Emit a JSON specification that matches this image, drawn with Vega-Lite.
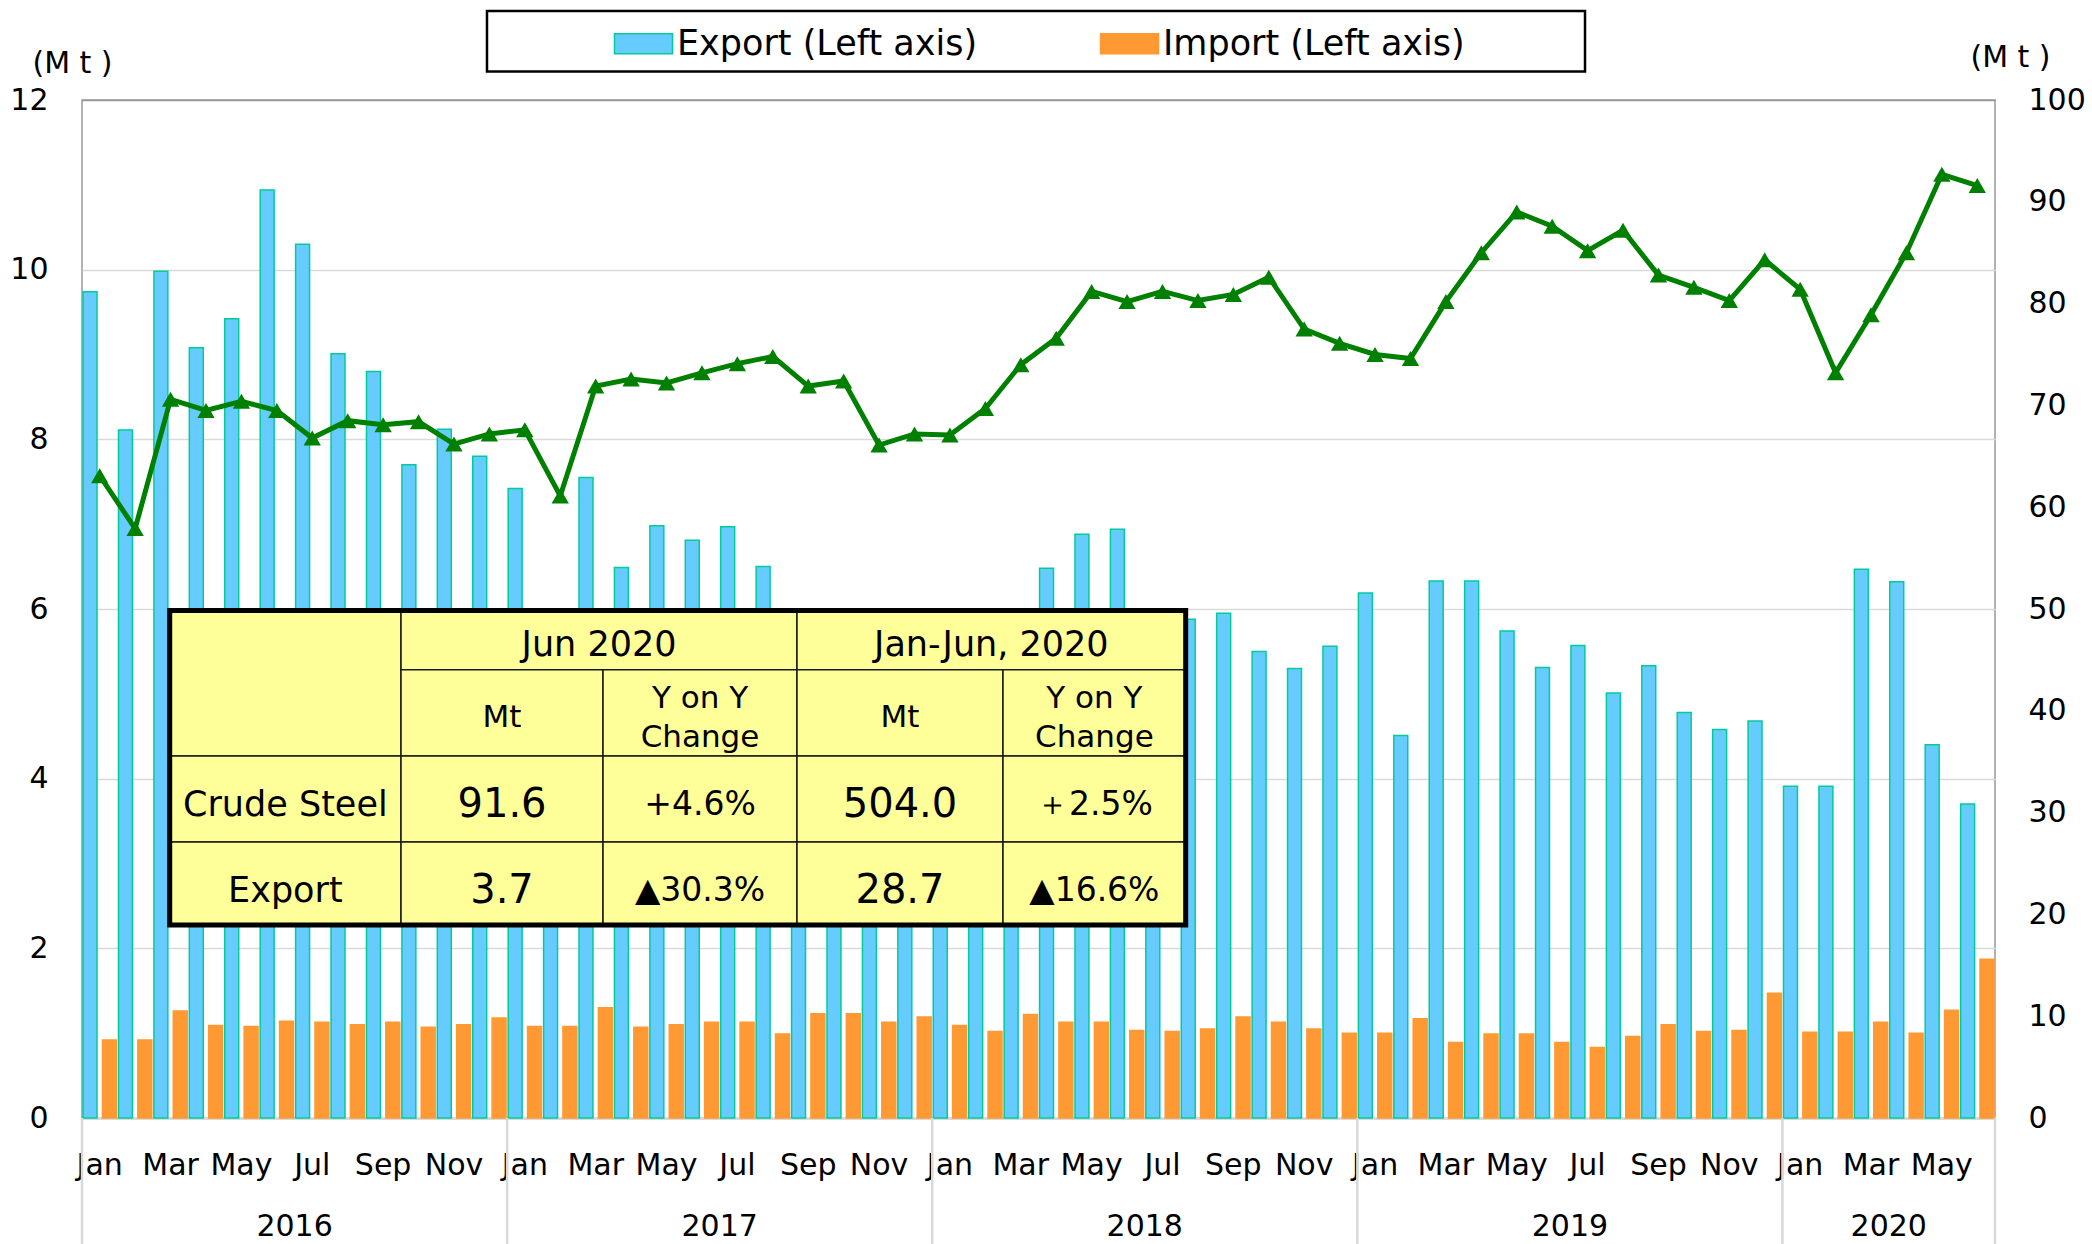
{
  "$schema": "https://vega.github.io/schema/vega-lite/v6.json",
  "width": 1913,
  "height": 1018,
  "autosize": {"type": "none"},
  "padding": {"left": 82, "top": 100, "right": 97, "bottom": 126},
  "background": "white",
  "config": {
    "font": "DejaVu Sans",
    "view": {"stroke": "#999999", "strokeWidth": 1.5},
    "axis": {"labelColor": "#000000", "titleColor": "#000000", "labelFont": "DejaVu Sans", "titleFont": "DejaVu Sans"},
    "legend": {
      "orient": "none",
      "legendX": 544,
      "legendY": -74,
      "direction": "horizontal",
      "columns": 2,
      "padding": 0,
      "symbolType": "M-2.9,-1H2.9V1H-2.9Z",
      "symbolSize": 400,
      "symbolStrokeWidth": 1.5,
      "labelFontSize": 35,
      "labelColor": "#000000",
      "labelOffset": 16,
      "labelLimit": 500,
      "columnPadding": 119
    }
  },
  "datasets": {
    "monthly": [
      {"m": "2016-Jan", "Export": 9.74, "Import": 0.92, "cs": 63.1},
      {"m": "2016-Feb", "Export": 8.11, "Import": 0.92, "cs": 57.9},
      {"m": "2016-Mar", "Export": 9.98, "Import": 1.26, "cs": 70.6},
      {"m": "2016-Apr", "Export": 9.08, "Import": 1.09, "cs": 69.5},
      {"m": "2016-May", "Export": 9.42, "Import": 1.08, "cs": 70.4},
      {"m": "2016-Jun", "Export": 10.94, "Import": 1.14, "cs": 69.5},
      {"m": "2016-Jul", "Export": 10.30, "Import": 1.13, "cs": 66.8},
      {"m": "2016-Aug", "Export": 9.01, "Import": 1.10, "cs": 68.5},
      {"m": "2016-Sep", "Export": 8.80, "Import": 1.13, "cs": 68.1},
      {"m": "2016-Oct", "Export": 7.70, "Import": 1.07, "cs": 68.4},
      {"m": "2016-Nov", "Export": 8.12, "Import": 1.10, "cs": 66.2},
      {"m": "2016-Dec", "Export": 7.80, "Import": 1.18, "cs": 67.2},
      {"m": "2017-Jan", "Export": 7.42, "Import": 1.08, "cs": 67.6},
      {"m": "2017-Feb", "Export": 5.45, "Import": 1.08, "cs": 61.1},
      {"m": "2017-Mar", "Export": 7.55, "Import": 1.30, "cs": 71.9},
      {"m": "2017-Apr", "Export": 6.49, "Import": 1.07, "cs": 72.6},
      {"m": "2017-May", "Export": 6.98, "Import": 1.10, "cs": 72.2},
      {"m": "2017-Jun", "Export": 6.81, "Import": 1.13, "cs": 73.2},
      {"m": "2017-Jul", "Export": 6.97, "Import": 1.13, "cs": 74.1},
      {"m": "2017-Aug", "Export": 6.50, "Import": 0.99, "cs": 74.8},
      {"m": "2017-Sep", "Export": 5.82, "Import": 1.23, "cs": 71.9},
      {"m": "2017-Oct", "Export": 5.20, "Import": 1.23, "cs": 72.4},
      {"m": "2017-Nov", "Export": 5.42, "Import": 1.13, "cs": 66.1},
      {"m": "2017-Dec", "Export": 5.63, "Import": 1.19, "cs": 67.2},
      {"m": "2018-Jan", "Export": 5.00, "Import": 1.09, "cs": 67.1},
      {"m": "2018-Feb", "Export": 4.80, "Import": 1.02, "cs": 69.7},
      {"m": "2018-Mar", "Export": 5.30, "Import": 1.22, "cs": 74.0},
      {"m": "2018-Apr", "Export": 6.48, "Import": 1.13, "cs": 76.6},
      {"m": "2018-May", "Export": 6.88, "Import": 1.13, "cs": 81.2},
      {"m": "2018-Jun", "Export": 6.94, "Import": 1.03, "cs": 80.2},
      {"m": "2018-Jul", "Export": 5.85, "Import": 1.02, "cs": 81.2},
      {"m": "2018-Aug", "Export": 5.88, "Import": 1.05, "cs": 80.3},
      {"m": "2018-Sep", "Export": 5.95, "Import": 1.19, "cs": 80.9},
      {"m": "2018-Oct", "Export": 5.50, "Import": 1.13, "cs": 82.6},
      {"m": "2018-Nov", "Export": 5.30, "Import": 1.05, "cs": 77.5},
      {"m": "2018-Dec", "Export": 5.56, "Import": 1.00, "cs": 76.1},
      {"m": "2019-Jan", "Export": 6.19, "Import": 1.00, "cs": 75.0},
      {"m": "2019-Feb", "Export": 4.51, "Import": 1.17, "cs": 74.6},
      {"m": "2019-Mar", "Export": 6.33, "Import": 0.89, "cs": 80.2},
      {"m": "2019-Apr", "Export": 6.33, "Import": 0.99, "cs": 85.0},
      {"m": "2019-May", "Export": 5.74, "Import": 0.99, "cs": 89.0},
      {"m": "2019-Jun", "Export": 5.31, "Import": 0.89, "cs": 87.6},
      {"m": "2019-Jul", "Export": 5.57, "Import": 0.83, "cs": 85.2},
      {"m": "2019-Aug", "Export": 5.01, "Import": 0.96, "cs": 87.2},
      {"m": "2019-Sep", "Export": 5.33, "Import": 1.10, "cs": 82.8},
      {"m": "2019-Oct", "Export": 4.78, "Import": 1.02, "cs": 81.6},
      {"m": "2019-Nov", "Export": 4.58, "Import": 1.03, "cs": 80.3},
      {"m": "2019-Dec", "Export": 4.68, "Import": 1.47, "cs": 84.3},
      {"m": "2020-Jan", "Export": 3.91, "Import": 1.01, "cs": 81.4},
      {"m": "2020-Feb", "Export": 3.91, "Import": 1.01, "cs": 73.2},
      {"m": "2020-Mar", "Export": 6.47, "Import": 1.13, "cs": 78.9},
      {"m": "2020-Apr", "Export": 6.32, "Import": 1.00, "cs": 85.0},
      {"m": "2020-May", "Export": 4.40, "Import": 1.27, "cs": 92.7},
      {"m": "2020-Jun", "Export": 3.70, "Import": 1.87, "cs": 91.6}
    ],
    "cells": [
      {"x1": 2.476, "x2": 9.005, "y1": 4.267, "y2": 5.982},
      {"x1": 9.005, "x2": 20.183, "y1": 5.283, "y2": 5.982},
      {"x1": 20.183, "x2": 31.155, "y1": 5.283, "y2": 5.982},
      {"x1": 9.005, "x2": 14.707, "y1": 4.267, "y2": 5.283},
      {"x1": 14.707, "x2": 20.183, "y1": 4.267, "y2": 5.283},
      {"x1": 20.183, "x2": 25.998, "y1": 4.267, "y2": 5.283},
      {"x1": 25.998, "x2": 31.155, "y1": 4.267, "y2": 5.283},
      {"x1": 2.476, "x2": 9.005, "y1": 3.253, "y2": 4.267},
      {"x1": 9.005, "x2": 14.707, "y1": 3.253, "y2": 4.267},
      {"x1": 14.707, "x2": 20.183, "y1": 3.253, "y2": 4.267},
      {"x1": 20.183, "x2": 25.998, "y1": 3.253, "y2": 4.267},
      {"x1": 25.998, "x2": 31.155, "y1": 3.253, "y2": 4.267},
      {"x1": 2.476, "x2": 9.005, "y1": 2.275, "y2": 3.253},
      {"x1": 9.005, "x2": 14.707, "y1": 2.275, "y2": 3.253},
      {"x1": 14.707, "x2": 20.183, "y1": 2.275, "y2": 3.253},
      {"x1": 20.183, "x2": 25.998, "y1": 2.275, "y2": 3.253},
      {"x1": 25.998, "x2": 31.155, "y1": 2.275, "y2": 3.253}
    ],
    "text35": [
      {"t": "Jun 2020", "x": 14.594, "y": 5.58},
      {"t": "Jan-Jun, 2020", "x": 25.669, "y": 5.58},
      {"t": "Crude Steel", "x": 5.74, "y": 3.69},
      {"t": "Export", "x": 5.74, "y": 2.67}
    ],
    "text31": [
      {"t": "Mt", "x": 11.856, "y": 4.71},
      {"t": "Y on Y", "x": 17.445, "y": 4.94},
      {"t": "Change", "x": 17.445, "y": 4.48},
      {"t": "Mt", "x": 23.09, "y": 4.71},
      {"t": "Y on Y", "x": 28.577, "y": 4.94},
      {"t": "Change", "x": 28.577, "y": 4.48}
    ],
    "text33": [
      {"t": "+4.6%", "x": 17.445, "y": 3.69},
      {"t": "＋2.5%", "x": 28.577, "y": 3.69},
      {"t": "▲30.3%", "x": 17.445, "y": 2.67},
      {"t": "▲16.6%", "x": 28.577, "y": 2.67}
    ],
    "text40": [
      {"t": "91.6", "x": 11.856, "y": 3.69},
      {"t": "504.0", "x": 23.09, "y": 3.69},
      {"t": "3.7", "x": 11.856, "y": 2.67},
      {"t": "28.7", "x": 23.09, "y": 2.67}
    ],
    "years": [
      {"yr": "2016", "c": 6},
      {"yr": "2017", "c": 18},
      {"yr": "2018", "c": 30},
      {"yr": "2019", "c": 42},
      {"yr": "2020", "c": 51}
    ],
    "bounds": [
      {"b": 0}, {"b": 12}, {"b": 24}, {"b": 36}, {"b": 48}, {"b": 54}
    ]
  },
  "layer": [
    {
      "data": {"name": "monthly"},
      "transform": [{"fold": ["Export", "Import"], "as": ["series", "value"]}],
      "mark": {"type": "bar", "strokeWidth": 1.5},
      "encoding": {
        "x": {
          "field": "m", "type": "ordinal", "sort": null,
          "scale": {"paddingInner": 0.06, "paddingOuter": 0.03},
          "axis": {
            "title": null,
            "values": ["2016-Jan","2016-Mar","2016-May","2016-Jul","2016-Sep","2016-Nov","2017-Jan","2017-Mar","2017-May","2017-Jul","2017-Sep","2017-Nov","2018-Jan","2018-Mar","2018-May","2018-Jul","2018-Sep","2018-Nov","2019-Jan","2019-Mar","2019-May","2019-Jul","2019-Sep","2019-Nov","2020-Jan","2020-Mar","2020-May"],
            "labelExpr": "slice(datum.label, 5)",
            "labelAngle": 0,
            "labelFontSize": 30,
            "labelPadding": 32,
            "ticks": false,
            "tickSize": 0,
            "domainColor": "#D9D9D9",
            "domainWidth": 3,
            "labelOverlap": false,
            "labelBound": false,
            "labelFlush": false,
            "grid": false
          }
        },
        "xOffset": {"field": "series", "type": "nominal", "scale": {"paddingInner": 0.28, "paddingOuter": 0}},
        "y": {
          "field": "value", "type": "quantitative",
          "scale": {"domain": [0, 12], "nice": false},
          "axis": {
            "title": "(M t )",
            "values": [0, 2, 4, 6, 8, 10, 12],
            "grid": true,
            "gridColor": {"condition": {"test": "datum.value == 12", "value": "#999999"}, "value": "#D9D9D9"},
            "gridWidth": 1.5,
            "ticks": false,
            "tickSize": 0,
            "domain": false,
            "labelFontSize": 30,
            "labelPadding": 34,
            "titleAngle": 0,
            "titleX": -10,
            "titleY": -37,
            "titleAlign": "center",
            "titleBaseline": "middle",
            "titleFontSize": 30,
            "titleFontWeight": "normal"
          }
        },
        "color": {
          "field": "series", "type": "nominal",
          "scale": {"domain": ["Export", "Import"], "range": ["#66CCFF", "#FF9933"]},
          "legend": {"title": null, "labelExpr": "datum.label + ' (Left axis)'"}
        },
        "stroke": {
          "field": "series", "type": "nominal",
          "scale": {"domain": ["Export", "Import"], "range": ["#00CC99", "#FF9933"]},
          "legend": {"title": null, "labelExpr": "datum.label + ' (Left axis)'"}
        }
      }
    },
    {
      "data": {"name": "monthly"},
      "mark": {
        "type": "line", "color": "#008000", "strokeWidth": 5,
        "point": {"shape": "triangle-up", "size": 300, "filled": true, "color": "#008000"}
      },
      "encoding": {
        "x": {"field": "m", "type": "ordinal", "sort": null, "scale": {"type": "point", "padding": 0.5}, "axis": null},
        "y": {
          "field": "cs", "type": "quantitative",
          "scale": {"domain": [0, 100], "nice": false},
          "axis": {
            "orient": "right",
            "title": "(M t )",
            "values": [0, 10, 20, 30, 40, 50, 60, 70, 80, 90, 100],
            "grid": false,
            "ticks": false,
            "tickSize": 0,
            "domain": false,
            "labelFontSize": 30,
            "labelPadding": 33,
            "titleAngle": 0,
            "titleX": 15,
            "titleY": -43,
            "titleAlign": "center",
            "titleBaseline": "middle",
            "titleFontSize": 30,
            "titleFontWeight": "normal"
          }
        }
      }
    },
    {
      "layer": [
        {
          "data": {"name": "cells"},
          "mark": {"type": "rect", "fill": "#FFFF99", "stroke": "#1A1A1A", "strokeWidth": 1.5},
          "encoding": {
            "x": {"field": "x1", "type": "quantitative", "scale": {"domain": [0, 54], "nice": false, "zero": false}, "axis": null},
            "x2": {"field": "x2"},
            "y": {"field": "y1", "type": "quantitative", "scale": {"domain": [0, 12], "nice": false, "zero": false}, "axis": null},
            "y2": {"field": "y2"}
          }
        },
        {
          "data": {"values": [{}]},
          "mark": {"type": "rect", "fill": "#FFFFFF", "fillOpacity": 0, "stroke": "#000000", "strokeWidth": 5},
          "encoding": {
            "x": {"datum": 2.476, "type": "quantitative"},
            "x2": {"datum": 31.155},
            "y": {"datum": 2.275, "type": "quantitative"},
            "y2": {"datum": 5.982}
          }
        },
        {
          "data": {"name": "text35"},
          "mark": {"type": "text", "fontSize": 35, "color": "#000000", "align": "center", "baseline": "middle"},
          "encoding": {
            "x": {"field": "x", "type": "quantitative"},
            "y": {"field": "y", "type": "quantitative"},
            "text": {"field": "t"}
          }
        },
        {
          "data": {"name": "text31"},
          "mark": {"type": "text", "fontSize": 31, "color": "#000000", "align": "center", "baseline": "middle"},
          "encoding": {
            "x": {"field": "x", "type": "quantitative"},
            "y": {"field": "y", "type": "quantitative"},
            "text": {"field": "t"}
          }
        },
        {
          "data": {"name": "text33"},
          "mark": {"type": "text", "fontSize": 33, "color": "#000000", "align": "center", "baseline": "middle"},
          "encoding": {
            "x": {"field": "x", "type": "quantitative"},
            "y": {"field": "y", "type": "quantitative"},
            "text": {"field": "t"}
          }
        },
        {
          "data": {"name": "text40"},
          "mark": {"type": "text", "fontSize": 40, "color": "#000000", "align": "center", "baseline": "middle"},
          "encoding": {
            "x": {"field": "x", "type": "quantitative"},
            "y": {"field": "y", "type": "quantitative"},
            "text": {"field": "t"}
          }
        },
        {
          "data": {"name": "bounds"},
          "mark": {"type": "rule", "color": "#D9D9D9", "strokeWidth": 2.5},
          "encoding": {
            "x": {"field": "b", "type": "quantitative"},
            "y": {"datum": 0, "type": "quantitative"},
            "y2": {"datum": -1.49}
          }
        },
        {
          "data": {"name": "years"},
          "mark": {"type": "text", "fontSize": 30, "color": "#000000", "align": "center", "baseline": "alphabetic"},
          "encoding": {
            "x": {"field": "c", "type": "quantitative"},
            "y": {"datum": -1.39, "type": "quantitative"},
            "text": {"field": "yr"}
          }
        },
        {
          "data": {"values": [{}]},
          "mark": {"type": "rect", "fill": "#FFFFFF", "fillOpacity": 0, "stroke": "#000000", "strokeWidth": 2.5},
          "encoding": {
            "x": {"datum": 11.432, "type": "quantitative"},
            "x2": {"datum": 42.427},
            "y": {"datum": 12.336, "type": "quantitative"},
            "y2": {"datum": 13.049}
          }
        }
      ]
    }
  ],
  "resolve": {"scale": {"x": "independent", "y": "independent"}}
}
